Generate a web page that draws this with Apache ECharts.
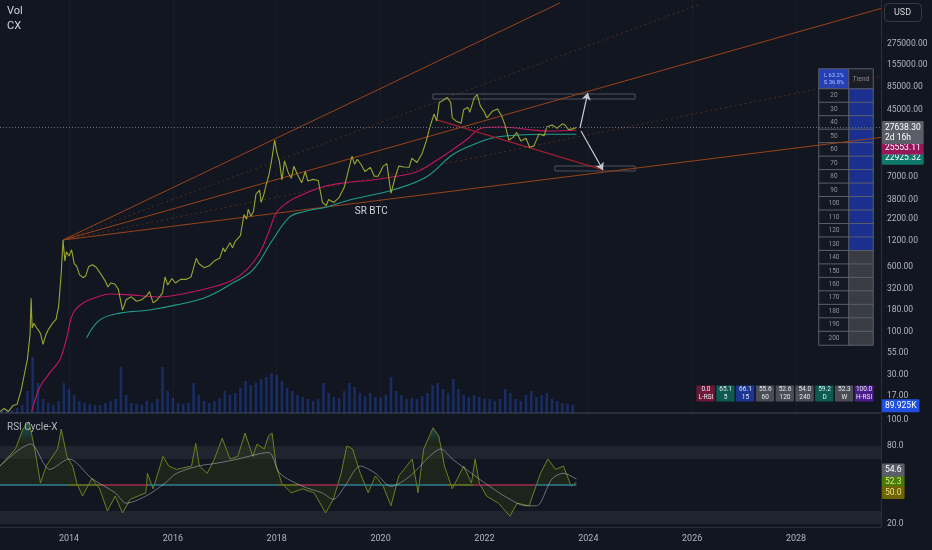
<!DOCTYPE html>
<html><head><meta charset="utf-8">
<script src="https://cdn.jsdelivr.net/npm/echarts@6/dist/echarts.min.js"></script>
<style>html,body{margin:0;padding:0;background:#121620;}#c{width:932px;height:550px;}</style>
</head><body><div id="c"></div>
<script>
// ---------- DATA ----------
const timeTicks = [2014, 2016, 2018, 2020, 2022, 2024, 2026, 2028];
const priceTicks = [275000, 155000, 85000, 45000, 7000, 3800, 2200, 1200, 600, 320, 180, 100, 55, 30, 17];
const rsiTicks = [100, 80, 20];

const btcPrice = [[2012.67,11],[2012.75,12],[2012.83,11],[2012.92,13],[2013.0,13.5],[2013.08,20],[2013.15,33],[2013.2,47],[2013.25,93],[2013.27,250],[2013.29,110],[2013.32,125],[2013.38,110],[2013.45,95],[2013.5,70],[2013.55,90],[2013.6,105],[2013.68,125],[2013.75,140],[2013.8,200],[2013.85,500],[2013.885,1240],[2013.92,700],[2013.95,900],[2014.0,800],[2014.05,950],[2014.1,650],[2014.15,600],[2014.2,480],[2014.27,440],[2014.32,460],[2014.38,600],[2014.45,630],[2014.52,590],[2014.6,500],[2014.7,400],[2014.75,340],[2014.8,380],[2014.88,370],[2014.95,320],[2015.03,180],[2015.1,240],[2015.2,260],[2015.3,230],[2015.4,240],[2015.5,270],[2015.55,300],[2015.62,220],[2015.7,240],[2015.8,290],[2015.85,450],[2015.9,360],[2015.98,430],[2016.05,380],[2016.15,420],[2016.25,420],[2016.35,450],[2016.45,750],[2016.5,650],[2016.6,580],[2016.7,610],[2016.8,700],[2016.9,750],[2016.97,1000],[2017.0,900],[2017.1,1150],[2017.15,1000],[2017.2,1200],[2017.3,1400],[2017.37,2500],[2017.42,2200],[2017.45,2900],[2017.5,2400],[2017.55,2700],[2017.6,4400],[2017.67,4900],[2017.7,3500],[2017.75,4300],[2017.8,5800],[2017.85,7500],[2017.9,11000],[2017.96,19500],[2018.0,14000],[2018.05,11000],[2018.1,6500],[2018.15,11000],[2018.22,8000],[2018.28,6800],[2018.33,9500],[2018.4,7500],[2018.48,6000],[2018.55,8200],[2018.6,6300],[2018.7,6600],[2018.8,6400],[2018.88,3500],[2018.95,3200],[2019.0,3800],[2019.1,3500],[2019.2,4000],[2019.3,5300],[2019.37,8000],[2019.45,12500],[2019.5,10000],[2019.55,11500],[2019.62,10000],[2019.7,8200],[2019.8,9200],[2019.88,7200],[2019.95,7200],[2020.05,9500],[2020.12,10200],[2020.2,4500],[2020.28,7000],[2020.35,9500],[2020.45,9300],[2020.55,9200],[2020.6,11800],[2020.7,10500],[2020.8,13500],[2020.88,19000],[2020.95,28000],[2021.03,40000],[2021.08,33000],[2021.13,55000],[2021.2,58000],[2021.28,63000],[2021.35,55000],[2021.38,36000],[2021.45,33000],[2021.55,31000],[2021.6,45000],[2021.68,48000],[2021.72,42000],[2021.8,62000],[2021.86,68000],[2021.92,50000],[2022.0,42000],[2022.05,36000],[2022.15,43000],[2022.25,46000],[2022.33,38000],[2022.4,29000],[2022.47,19500],[2022.55,21000],[2022.62,24000],[2022.7,19000],[2022.8,20500],[2022.87,16000],[2022.95,16500],[2023.05,23000],[2023.15,22000],[2023.2,28000],[2023.3,29500],[2023.4,27000],[2023.5,30500],[2023.55,29500],[2023.62,26000],[2023.7,26500],[2023.77,27638.3]];

const maPink = [[2013.28,11],[2013.44,21.7],[2013.63,32],[2013.82,45.6],[2013.96,86],[2014.08,166],[2014.27,219],[2014.54,259],[2014.79,281],[2015.23,272],[2015.75,259],[2016.27,289],[2016.77,340],[2017.15,413],[2017.42,545],[2017.67,870],[2017.86,1640],[2017.99,2610],[2018.19,3440],[2018.44,4200],[2018.88,5360],[2019.27,5970],[2019.84,6490],[2020.23,7050],[2020.69,8090],[2021.0,10380],[2021.32,14000],[2021.65,19500],[2021.96,27200],[2022.29,27900],[2022.61,27200],[2022.92,25700],[2023.25,25000],[2023.77,25553.11]];

const maTeal = [[2014.34,84],[2014.59,137],[2014.98,166],[2015.55,181],[2016.07,208],[2016.65,259],[2017.15,380],[2017.54,545],[2017.92,1245],[2018.25,2344],[2018.5,2690],[2018.96,3090],[2019.4,3740],[2020.23,4930],[2020.88,7050],[2021.38,12900],[2021.77,17000],[2022.15,20600],[2022.67,22400],[2023.25,22900],[2023.77,22925.32]];

const volStart = 2012.7, volStep = 0.1;
const volumeK = [33,44,33,
 55,88,242,616,330,154,110,88,132,330,
 264,198,132,110,99,88,88,110,132,154,
 506,198,110,99,88,132,110,154,506,242,
 165,110,99,110,330,198,132,110,132,165,
 242,198,220,275,352,308,330,374,396,440,
 418,352,275,242,198,176,154,132,154,330,
 220,176,165,242,330,286,220,187,220,176,
 165,198,396,242,198,154,165,154,187,220,
 308,330,264,220,374,264,198,176,198,176,
 154,154,132,154,264,220,154,132,198,242,
 176,198,220,154,132,110,99,89.925];

// trend lines: [year, price] pairs
const trendMain = [
  [[2013.884,1243],[2023.455,853000]],
  [[2013.884,1243],[2029.636,731000]],
  [[2013.884,1243],[2029.636,21000]]
];
const trendFaint = [
  [[2013.884,1243],[2026.15,820000]],
  [[2013.884,1243],[2029.636,112600]]
];
const trendRed = [[2021.086,33900],[2024.283,8550]];
const arrowUp = [[2023.84,27180],[2023.99,71300]];
const arrowDown = [[2023.86,25000],[2024.283,8550]];
const boxTop = [[2021.009,69300],[2024.899,60400]];
const boxBottom = [[2023.359,9540],[2024.899,8320]];
const srLabel = {text:'SR BTC', at:[2019.82,2690]};

const lastPrice = 27638.30, countdown = '2d 16h';
const lastPink = 25553.11, lastTeal = 22925.32, lastVolK = 89.925;

const rsi = [[2012.67,64.6],[2012.97,77.7],[2013.11,93],[2013.23,98.5],[2013.34,77.7],[2013.45,51.5],[2013.56,64.6],[2013.78,77.7],[2013.85,93],[2013.96,72],[2014.07,64.6],[2014.15,51.5],[2014.26,41.5],[2014.44,55],[2014.59,47],[2014.74,30],[2014.89,41.5],[2015.03,28.5],[2015.18,39],[2015.48,44],[2015.51,59],[2015.62,47],[2015.81,72],[2015.92,64.6],[2016.07,62],[2016.36,64.6],[2016.44,82],[2016.51,64.6],[2016.66,59],[2016.80,70],[2016.95,86],[2017.10,70],[2017.25,72],[2017.39,90],[2017.54,72],[2017.62,81.5],[2017.76,77.7],[2017.84,87.7],[2017.91,90],[2017.99,64.6],[2018.10,51],[2018.28,44],[2018.50,47],[2018.72,44],[2018.94,28.5],[2019.09,39],[2019.24,59],[2019.35,80],[2019.46,77.7],[2019.61,59],[2019.76,44],[2019.90,57],[2020.05,49],[2020.20,34],[2020.35,57],[2020.61,70],[2020.72,44],[2020.83,77.7],[2020.94,87.7],[2021.01,94],[2021.12,87.7],[2021.23,64.6],[2021.38,47],[2021.60,64.6],[2021.75,51.5],[2021.82,70],[2021.90,51.5],[2022.04,41.5],[2022.27,36],[2022.49,26],[2022.63,36],[2022.86,34],[2023.08,59],[2023.22,70],[2023.37,62],[2023.52,64.6],[2023.67,49],[2023.77,52.3]];

const rsiSignal = [[2012.67,64.6],[2013.26,81.5],[2013.63,62],[2014.0,70],[2014.44,55],[2014.89,44],[2015.1,36],[2015.48,41.5],[2015.85,51.5],[2016.07,59],[2016.5,64.6],[2016.88,67],[2017.25,70],[2017.84,75],[2018.06,59],[2018.5,49],[2018.87,44],[2019.09,39],[2019.31,49],[2019.61,64.6],[2019.9,59],[2020.2,49],[2020.57,57],[2020.94,72],[2021.16,77.7],[2021.38,70],[2021.75,59],[2022.1,49],[2022.49,39],[2022.79,34],[2023.0,34],[2023.3,54.6],[2023.52,59],[2023.77,54.6]];

// midline state segments: [from, to, state]
const midlineStates = [[2012.67,2013.96,'bull'],[2013.96,2014.6,'flat'],[2014.6,2015.5,'bear'],[2015.5,2018.0,'bull'],[2018.0,2018.4,'flat'],[2018.4,2019.2,'bear'],[2019.2,2021.27,'bull'],[2021.27,2021.77,'flat'],[2021.77,2023.0,'bear'],[2023.0,2023.77,'bull']];
const rsiBands = [[70,80],[20,30]];
const lastRsi = 52.3, lastSignal = 54.6, midValue = 50;

const badgeValues = ['0.0','65.1','66.1','55.6','52.6','54.0','59.2','52.3','100.0'];
const badgeNames = ['L-RSI','5','15','60','120','240','D','W','H-RSI'];

const tableHeader = ['L 63.2%\nS 36.8%', 'Trend'];
const tableRows = [20,30,40,50,60,70,80,90,100,110,120,130,140,150,160,170,180,190,200];
const tableTrend = ['up','up','up','up','up','up','up','up','up','up','up','up','none','none','none','none','none','none','none'];

// ---------- STYLE / LAYOUT ----------
const BG = '#121620';
const X_MIN = 2012.671, X_MAX = 2029.636;
const L_MIN = 1.0251, L_MAX = 5.9653;
const FONT = 'Roboto, "Noto Sans", sans-serif';
const AX = '#b2b5be';
const NOLINE = {color:'rgba(0,0,0,0)', width:0};
const LG = v => Math.log10(v);
const P = pt => [pt[0], LG(pt[1])];
const stateColor = {bull:'#2b7f8e', bear:'#a02c4a', flat:'#6e7d22'};
const badgeColors = ['#6e1838','#0c5a52','#1c3590','#4a4d56','#4a4d56','#4a4d56','#0c5a52','#4a4d56','#4b1c8c'];

const grids = [], xAxes = [], yAxes = [], series = [];
grids.push({left:0, top:0, width:881, height:413});
grids.push({left:0, top:415, width:881, height:112});

xAxes.push({gridIndex:0, type:'value', min:X_MIN, max:X_MAX, axisLabel:{show:false}, axisTick:{show:false},
  axisLine:{show:true, lineStyle:{color:'#2a2e39', width:2}}, splitLine:{show:false}});
yAxes.push({gridIndex:0, type:'value', position:'right', min:L_MIN, max:L_MAX,
  axisLine:{show:true, lineStyle:{color:'#2a2e39'}}, axisTick:{show:false}, splitLine:{show:false},
  axisLabel:{customValues: priceTicks.map(LG), margin:6, color:AX, fontSize:8.5, fontFamily:FONT,
    formatter: v => { let b = priceTicks[0]; for (const t of priceTicks) if (Math.abs(LG(t)-v) < Math.abs(LG(b)-v)) b = t; return b.toFixed(2); }}});
yAxes.push({gridIndex:0, type:'value', min:0, max:4543, show:false});
xAxes.push({gridIndex:1, type:'value', min:X_MIN, max:X_MAX, axisTick:{show:false}, splitLine:{show:false},
  axisLine:{show:true, lineStyle:{color:'#2a2e39'}},
  axisLabel:{customValues: timeTicks, formatter: v => String(Math.round(v)), color:AX, fontSize:9, margin:7, fontFamily:FONT}});
yAxes.push({gridIndex:1, type:'value', position:'right', min:17.7, max:103.85,
  axisLine:{show:true, lineStyle:{color:'#2a2e39'}}, axisTick:{show:false}, splitLine:{show:false},
  axisLabel:{customValues: rsiTicks, formatter: v => v.toFixed(1), margin:6, color:AX, fontSize:8.5, fontFamily:FONT}});

const sideLabel = (bg, color, off, text) => ({show:true, position:'end', distance:1, offset:[0, off], backgroundColor:bg, color:color,
  fontSize:8.5, fontFamily:FONT, padding:[2,3,1,3], lineHeight:10, borderRadius:1, formatter:text});

// volume
series.push({type:'bar', xAxisIndex:0, yAxisIndex:1, barWidth:2.5, silent:true,
  itemStyle:{color:'rgba(41,98,255,0.3)'},
  data: volumeK.map((v,i) => [+(volStart + i*volStep).toFixed(2), v]),
  markLine:{silent:true, symbol:'none', data:[{yAxis:lastVolK, lineStyle:NOLINE,
    label:sideLabel('#2150e0','#ffffff',1, lastVolK.toFixed(3) + 'K')}]}});

// vertical faint grid lines
series.push({type:'line', xAxisIndex:0, yAxisIndex:0, data:[], silent:true,
  markLine:{silent:true, symbol:'none', label:{show:false}, lineStyle:{color:'rgba(255,255,255,0.03)', type:'solid', width:1},
    data: timeTicks.map(t => ({xAxis:t}))}});

// fan trend lines
trendFaint.forEach(seg => series.push({type:'line', xAxisIndex:0, yAxisIndex:0, silent:true, showSymbol:false,
  data: seg.map(P), lineStyle:{color:'rgba(190,80,30,0.35)', width:1, type:[2,3]}}));
trendMain.forEach(seg => series.push({type:'line', xAxisIndex:0, yAxisIndex:0, silent:true, showSymbol:false,
  data: seg.map(P), lineStyle:{color:'#9a4218', width:1}}));

// moving averages
series.push({type:'line', xAxisIndex:0, yAxisIndex:0, silent:true, showSymbol:false, smooth:0.4,
  data: maTeal.map(P), lineStyle:{color:'#1f9c8c', width:1.1},
  markLine:{silent:true, symbol:'none', data:[{yAxis:LG(lastTeal), lineStyle:NOLINE,
    label:sideLabel('#0f7a6c','#ffffff',24, lastTeal.toFixed(2))}]}});
series.push({type:'line', xAxisIndex:0, yAxisIndex:0, silent:true, showSymbol:false, smooth:0.4,
  data: maPink.map(P), lineStyle:{color:'#c2185b', width:1.1},
  markLine:{silent:true, symbol:'none', data:[{yAxis:LG(lastPink), lineStyle:NOLINE,
    label:sideLabel('#97165a','#ffffff',18, lastPink.toFixed(2))}]}});

// red trend + arrows + boxes
series.push({type:'line', xAxisIndex:0, yAxisIndex:0, silent:true, showSymbol:false,
  data: trendRed.map(P), lineStyle:{color:'#9c1f2c', width:1.3},
  markLine:{silent:true, symbol:['none','arrow'], symbolSize:7, label:{show:false},
    lineStyle:{color:'#c8cbd3', width:1.2, type:'solid'},
    data:[[{coord:P(arrowUp[0])},{coord:P(arrowUp[1])}],[{coord:P(arrowDown[0])},{coord:P(arrowDown[1])}]]},
  markArea:{silent:true, itemStyle:{color:'rgba(0,0,0,0)', borderColor:'#4f525c', borderWidth:1},
    data:[[{coord:P(boxTop[0])},{coord:P(boxTop[1])}],[{coord:P(boxBottom[0])},{coord:P(boxBottom[1])}]]}});

// price
series.push({type:'line', xAxisIndex:0, yAxisIndex:0, silent:true, showSymbol:false,
  data: btcPrice.map(P), lineStyle:{color:'#9aa632', width:1.1},
  markLine:{silent:true, symbol:'none', data:[{yAxis:LG(lastPrice), lineStyle:{color:'#6b6f7a', type:[1,2], width:1},
    label:sideLabel('#5b5e68','#ffffff',5, lastPrice.toFixed(2) + '\n' + countdown)}]},
  markPoint:{silent:true, symbol:'circle', symbolSize:0,
    data:[{coord:P(srLabel.at), label:{show:true, position:'inside', formatter:srLabel.text, color:'#d1d4dc', fontSize:10, fontFamily:FONT}}]}});

// RSI pane
const rsiGrad = new echarts.graphic.LinearGradient(0, 415, 0, 527, [
  {offset:0, color:'rgba(60,215,200,0.95)'},
  {offset:0.1, color:'rgba(40,150,135,0.6)'},
  {offset:0.25, color:'rgba(48,62,20,0.55)'},
  {offset:1, color:'rgba(45,58,18,0.5)'}], true);
series.push({type:'line', xAxisIndex:1, yAxisIndex:2, silent:true, showSymbol:false, data:[],
  markArea:{silent:true, itemStyle:{color:'rgba(120,128,150,0.13)'},
    data: rsiBands.map(b => [{yAxis:b[0]},{yAxis:b[1]}])}});
series.push({type:'line', xAxisIndex:1, yAxisIndex:2, silent:true, showSymbol:false,
  data: rsi, lineStyle:{color:'#6f7f22', width:1},
  areaStyle:{origin:midValue, color:rsiGrad},
  markLine:{silent:true, symbol:'none', data:[
    {yAxis:lastRsi, lineStyle:NOLINE, label:sideLabel('#477a0c','#d8f070',-0.5, lastRsi.toFixed(1))},
    {yAxis:midValue, lineStyle:NOLINE, label:sideLabel('#6e6500','#f0e08a',7.5, midValue.toFixed(1))}]}});
const midIndex = series.length;
const midPoints = [[midlineStates[0][0], midValue]].concat(midlineStates.map(s => [s[1], midValue]));
series.push({type:'line', xAxisIndex:1, yAxisIndex:2, silent:true, showSymbol:false, z:4,
  data: midPoints, lineStyle:{width:1.6}});
series.push({type:'line', xAxisIndex:1, yAxisIndex:2, silent:true, showSymbol:false, smooth:0.3, z:5,
  data: rsiSignal, lineStyle:{color:'rgba(190,195,205,0.65)', width:0.8},
  markLine:{silent:true, symbol:'none', data:[{yAxis:lastSignal, lineStyle:NOLINE,
    label:sideLabel('#5b5e68','#ffffff',-9, lastSignal.toFixed(1))}]}});

// cell grids (badges + table)
function cellGrid(box, ncols, nrows, cells) {
  const gi = grids.length;
  grids.push({left:box[0], top:box[1], width:box[2], height:box[3]});
  xAxes.push({gridIndex:gi, type:'category', data:[...Array(ncols).keys()], show:false});
  yAxes.push({gridIndex:gi, type:'category', data:[...Array(nrows).keys()], show:false, inverse:true});
  series.push({type:'heatmap', xAxisIndex:xAxes.length-1, yAxisIndex:yAxes.length-1, silent:true, data:cells});
}
cellGrid([696,385,178,17], badgeValues.length, 1, badgeValues.map((v,i) => ({value:[i,0,1],
  itemStyle:{color:badgeColors[i], borderColor:BG, borderWidth:1.5},
  label:{show:true, formatter: v + '\n' + badgeNames[i], color:'#e6e8ee', fontSize:6.5, lineHeight:7.5, fontFamily:FONT}})));
cellGrid([819,69,30,20], 1, 1, [{value:[0,0,1], itemStyle:{color:'#2440b4', borderColor:'#5a5e6a', borderWidth:1},
  label:{show:true, formatter:tableHeader[0], color:'#a9c1ff', fontSize:5.8, lineHeight:6.5, fontFamily:FONT}}]);
cellGrid([849,69,24,20], 1, 1, [{value:[0,0,1], itemStyle:{color:'#1a1d26', borderColor:'#5a5e6a', borderWidth:1},
  label:{show:true, formatter:tableHeader[1], color:'#8a8d96', fontSize:6.5, fontFamily:FONT}}]);
cellGrid([819,89,30,256], 1, tableRows.length, tableRows.map((r,i) => ({value:[0,i,1],
  itemStyle:{color:'#141822', borderColor:'#5a5e6a', borderWidth:1},
  label:{show:true, formatter:String(r), color:'#8f929b', fontSize:6.5, fontFamily:FONT}})));
cellGrid([849,89,24,256], 1, tableRows.length, tableTrend.map((t,i) => ({value:[0,i,1],
  itemStyle:{color: t === 'up' ? '#1b2f8e' : '#3a3c44', borderColor:'#5a5e6a', borderWidth:1},
  label:{show:false}})));

grids.forEach(g => g.outerBoundsMode = 'none');

const chart = echarts.init(document.getElementById('c'), null, {renderer:'canvas'});
chart.setOption({
  backgroundColor: BG,
  animation: false,
  title: [
    {text:'Vol', left:7, top:6, padding:0, textStyle:{color:'#d1d4dc', fontSize:11, fontWeight:'normal', fontFamily:FONT}},
    {text:'CX', left:7, top:21, padding:0, textStyle:{color:'#d1d4dc', fontSize:11, fontWeight:'normal', fontFamily:FONT}},
    {text:'RSI Cycle-X', left:7, top:422, padding:0, textStyle:{color:'#b2b5be', fontSize:10, fontWeight:'normal', fontFamily:FONT}},
    {text:'USD', left:884, top:3, padding:[5,11,5,10], borderColor:'#363a45', borderWidth:1, borderRadius:4,
      textStyle:{color:'#d1d4dc', fontSize:9, fontWeight:'normal', fontFamily:FONT}}
  ],
  visualMap: [{type:'piecewise', show:false, seriesIndex:midIndex, dimension:0,
    pieces: midlineStates.map((s,i) => i === midlineStates.length-1 ? {gte:s[0], lte:s[1]+0.01, color:stateColor[s[2]]} : {gte:s[0], lt:s[1], color:stateColor[s[2]]})}],
  grid: grids, xAxis: xAxes, yAxis: yAxes, series: series
});
</script></body></html>
